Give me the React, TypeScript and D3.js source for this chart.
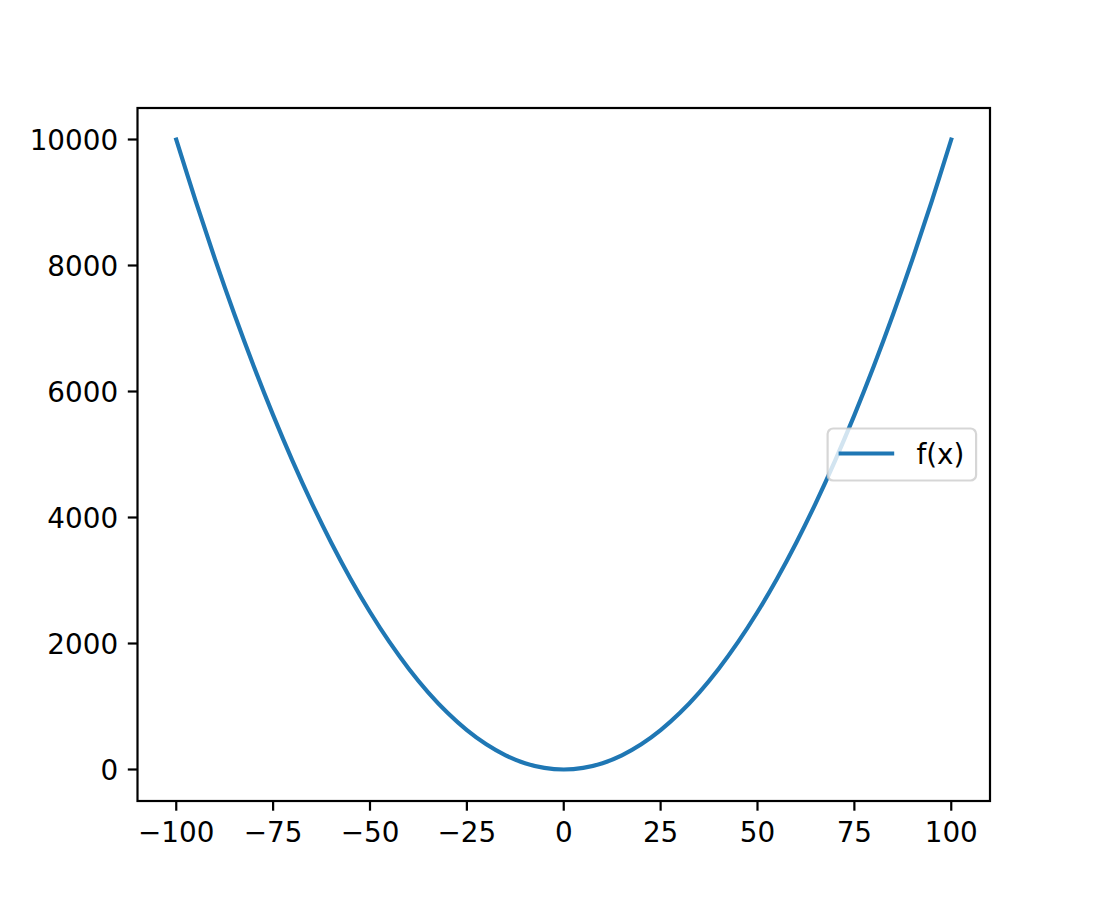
import React from "react";
import * as d3 from "d3";

const xValues = [-100, -95, -90, -85, -80, -75, -70, -65, -60, -55, -50, -45, -40, -35, -30, -25, -20, -15, -10, -5, 0, 5, 10, 15, 20, 25, 30, 35, 40, 45, 50, 55, 60, 65, 70, 75, 80, 85, 90, 95, 100];
const yValues = [10000, 9025, 8100, 7225, 6400, 5625, 4900, 4225, 3600, 3025, 2500, 2025, 1600, 1225, 900, 625, 400, 225, 100, 25, 0, 25, 100, 225, 400, 625, 900, 1225, 1600, 2025, 2500, 3025, 3600, 4225, 4900, 5625, 6400, 7225, 8100, 9025, 10000];
const xTicks = [-100, -75, -50, -25, 0, 25, 50, 75, 100];
const yTicks = [0, 2000, 4000, 6000, 8000, 10000];
const seriesName = "f(x)";

const W = 1100, H = 900;
const left = 137.5, right = 990, top = 108, bottom = 801;
const font = "'DejaVu Sans', sans-serif";
const fs = 27.8;
const tickLen = 9.7;
const pad = 9.7;
const fmt = (v: number) => (v < 0 ? "\u2212" + Math.abs(v) : String(v));

export default function App() {
  const x = d3.scaleLinear().domain([-110, 110]).range([left, right]);
  const y = d3.scaleLinear().domain([-500, 10500]).range([bottom, top]);
  const pts = xValues.map((v, i) => [v, yValues[i]] as [number, number]);
  const line = d3.line<[number, number]>().x(d => x(d[0])).y(d => y(d[1])).curve(d3.curveCatmullRom.alpha(0.5));
  const legCy = (top + bottom) / 2;
  const legRight = right - 13.9;
  const legW = 148.5;
  const legH = 52;
  const legLeft = legRight - legW;
  return (
    <svg width={W} height={H} style={{ position: "absolute", left: 0, top: 0, background: "#fff" }}>
      <rect x={0} y={0} width={W} height={H} fill="#fff" />
      <path d={line(pts) || ""} fill="none" stroke="#1f77b4" strokeWidth={4.17} strokeLinecap="square" />
      <rect x={left} y={top} width={right - left} height={bottom - top} fill="none" stroke="#000" strokeWidth={2.2} />
      {xTicks.map(t => (
        <g key={"x" + t}>
          <line x1={x(t)} x2={x(t)} y1={bottom} y2={bottom + tickLen} stroke="#000" strokeWidth={2.2} />
          <text x={x(t)} y={bottom + tickLen + pad} dy="0.76em" textAnchor="middle" fontFamily={font} fontSize={fs}>{fmt(t)}</text>
        </g>
      ))}
      {yTicks.map(t => (
        <g key={"y" + t}>
          <line x1={left - tickLen} x2={left} y1={y(t)} y2={y(t)} stroke="#000" strokeWidth={2.2} />
          <text x={left - tickLen - pad} y={y(t)} dy="0.36em" textAnchor="end" fontFamily={font} fontSize={fs}>{fmt(t)}</text>
        </g>
      ))}
      <g>
        <rect x={legLeft} y={legCy - legH / 2} width={legW} height={legH} rx={5.6} fill="#fff" fillOpacity={0.8} stroke="#cccccc" strokeOpacity={0.8} strokeWidth={2.2} />
        <line x1={legLeft + 11} x2={legLeft + 11 + 55.6} y1={legCy - 1} y2={legCy - 1} stroke="#1f77b4" strokeWidth={4.17} />
        <text x={legLeft + 11 + 55.6 + 22.2} y={legCy - 1} dy="0.36em" fontFamily={font} fontSize={fs}>{seriesName}</text>
      </g>
    </svg>
  );
}
